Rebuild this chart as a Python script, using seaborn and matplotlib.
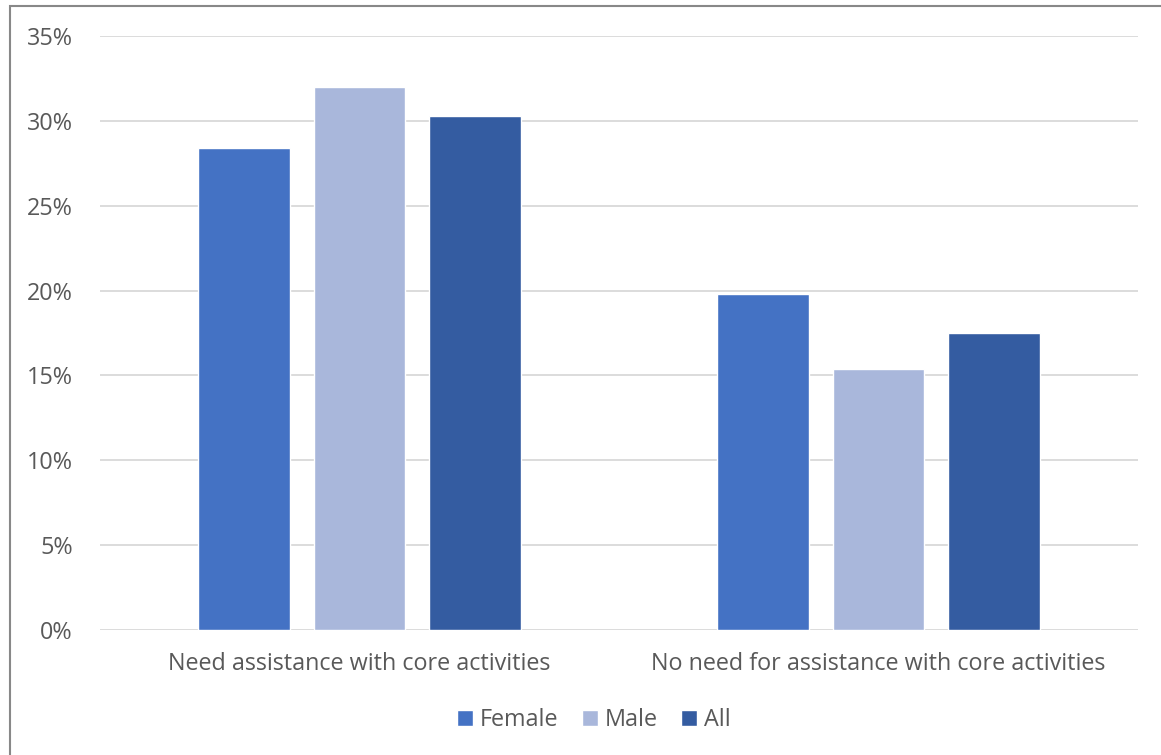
import matplotlib
matplotlib.use("Agg")
import matplotlib.pyplot as plt
import seaborn as sns
import pandas as pd
from matplotlib.patches import Rectangle
from matplotlib.ticker import FuncFormatter

categories = ["Need assistance with core activities", "No need for assistance with core activities"]
series = ["Female", "Male", "All"]
female = [28.4, 19.8]
male = [32.0, 15.4]
all_ = [30.3, 17.5]
yticks = [0, 5, 10, 15, 20, 25, 30, 35]

rows = []
for i, c in enumerate(categories):
    rows.append((c, "Female", female[i]))
    rows.append((c, "Male", male[i]))
    rows.append((c, "All", all_[i]))
df = pd.DataFrame(rows, columns=["category", "series", "value"])

sns.set_theme(style="white")
plt.rcParams['font.family'] = ['Open Sans', 'DejaVu Sans']

W, H = 1161, 755
FS = 16.8
fig = plt.figure(figsize=(W / 100, H / 100), dpi=100)
ax = fig.add_axes([100 / W, (H - 630) / H, (1138 - 100) / W, (630 - 36) / H])

palette = {"Female": "#4472C4", "Male": "#A9B7DB", "All": "#345CA1"}
sns.barplot(data=df, x="category", y="value", hue="series", hue_order=series,
            palette=palette, width=0.668, gap=0.21, ax=ax, saturation=1,
            legend=True, zorder=3)

ax.set_ylim(0, 35)
ax.set_xlim(-0.5, 1.5)
ax.set_yticks(yticks)
ax.yaxis.set_major_formatter(FuncFormatter(lambda v, p: f"{int(v)}%"))
ax.grid(axis="y", color="#D9D9D9", linewidth=1.3, zorder=0)
ax.set_axisbelow(True)
for s in ax.spines.values():
    s.set_visible(False)
ax.tick_params(axis="both", length=0, labelsize=FS, colors="#595959")
ax.tick_params(axis="y", pad=19.5)
ax.tick_params(axis="x", pad=16)
ax.set_xlabel("")
ax.set_ylabel("")

handles, labels = ax.get_legend_handles_labels()
ax.legend(handles, labels, loc="center", bbox_to_anchor=(594 / W, (H - 720.5) / H),
          bbox_transform=fig.transFigure, ncol=3, frameon=False, fontsize=FS,
          handlelength=0.68, handleheight=0.68, handletextpad=0.3, columnspacing=1.0,
          labelcolor="#595959")

fig.patches.append(Rectangle((10 / W, -0.05), 1.2, (H - 6) / H + 0.05,
                             transform=fig.transFigure, fill=False,
                             edgecolor="#888888", linewidth=1.5))

fig.savefig("out.png", dpi=100, facecolor="white")
